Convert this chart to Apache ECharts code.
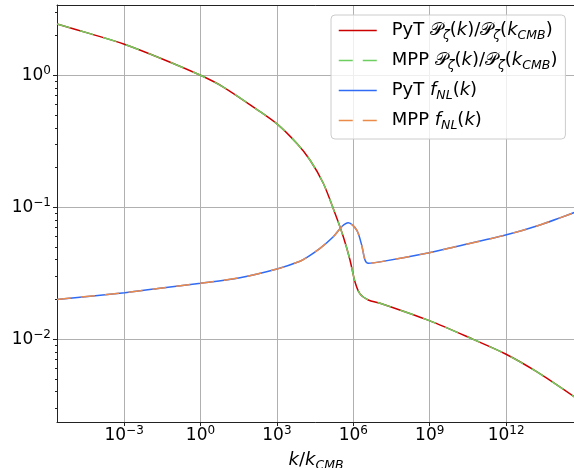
<!DOCTYPE html>
<html><head><meta charset="utf-8">
<script src="https://cdn.jsdelivr.net/npm/echarts@6/dist/echarts.min.js"></script>
<style>html,body{margin:0;padding:0;background:#fff}#c{width:574px;height:468px}</style>
</head><body><div id="c"></div>
<script>
// Power spectrum ratio P_zeta(k)/P_zeta(k_CMB)
const kP = [2.32e-6, 4.57e-5, 1.02e-3, 3.16e-2, 1, 7.85, 161, 1035, 5.98e3, 1.99e4, 6.62e4, 1.91e5, 4.05e5, 7.41e5, 1.16e6, 1.83e6, 3.87e6, 1.12e7, 9.62e8, 5.13e10, 9.55e11, 1.58e13, 5.07e14];
const pRatio = [2.45, 2.07, 1.72, 1.33, 1.0, 0.815, 0.552, 0.426, 0.305, 0.228, 0.152, 0.0899, 0.0597, 0.0398, 0.0272, 0.0220, 0.0198, 0.0187, 0.0138, 0.00995, 0.00771, 0.00566, 0.00362];
// f_NL(k)
const kF = [2.32e-6, 1.06e-3, 2.57e-2, 1.02, 35.5, 1007, 8.07e3, 1.52e4, 4.92e4, 1.64e5, 3.50e5, 6.35e5, 1.36e6, 2.13e6, 2.88e6, 3.87e6, 1.12e7, 9.62e8, 1e10, 9.55e11, 2.14e13, 5.07e14];
const fNL = [0.0200, 0.0225, 0.0243, 0.0265, 0.0292, 0.0340, 0.0389, 0.0417, 0.0488, 0.0597, 0.0711, 0.0762, 0.0671, 0.0516, 0.0398, 0.0376, 0.0385, 0.0452, 0.0501, 0.0615, 0.0733, 0.0915];
const xTicks = [1e-3, 1, 1e3, 1e6, 1e9, 1e12];
const yTicks = [0.01, 0.1, 1];
const yMinorTicks = [0.003, 0.004, 0.005, 0.006, 0.007, 0.008, 0.009, 0.02, 0.03, 0.04, 0.05, 0.06, 0.07, 0.08, 0.09, 0.2, 0.3, 0.4, 0.5, 0.6, 0.7, 0.8, 0.9, 2, 3];
const seriesNames = ['PyT P', 'MPP P', 'PyT fNL', 'MPP fNL'];
const seriesColors = ['#cc0000', '#6ccf5f', '#2f6bf5', '#ec8a4a'];

const FONT = 'DejaVu Sans';
const DASH = [14, 10];
const zip = (a, b) => a.map((v, i) => [v, b[i]]);
const powLabel = v => {
  const e = Math.round(Math.log10(v));
  return '{b|10}{s|' + String(e).replace('-', '\u2212') + '}';
};
const labelRich = {
  b: {fontSize: 17, fontFamily: FONT, color: '#000', lineHeight: 21},
  s: {fontSize: 12, fontFamily: FONT, color: '#000', padding: [0, 0, 9, 0]}
};
const textRich = {
  g: {width: 10},
  t: {fontSize: 18, fontFamily: FONT, color: '#000', lineHeight: 22},
  i: {fontSize: 18, fontFamily: FONT, color: '#000', fontStyle: 'italic', lineHeight: 22},
  m: {fontSize: 18, fontFamily: FONT, color: '#000', lineHeight: 22},
  sub: {fontSize: 12.5, fontFamily: FONT, color: '#000', fontStyle: 'italic', lineHeight: 12, padding: [10, 0, 0, 0]}
};
const PZ = '{m|\u{1D4AB}}{sub|\u03B6}{t|(}{i|k}{t|)/}{m|\u{1D4AB}}{sub|\u03B6}{t|(}{i|k}{sub|CMB}{t|)}';
const FN = '{i|f}{sub|NL}{t|(}{i|k}{t|)}';
const legendText = {
  'PyT P': '{g| }{t|PyT }' + PZ,
  'MPP P': '{g| }{t|MPP }' + PZ,
  'PyT fNL': '{g| }{t|PyT }' + FN,
  'MPP fNL': '{g| }{t|MPP }' + FN
};

const xMin = Math.pow(10, -5.635), xMax = Math.pow(10, 14.705);
const yMin = 0.002352, yMax = 3.412;

const mkSeries = (i, kArr, vArr, dashed) => ({
  name: seriesNames[i], type: 'line', data: zip(kArr, vArr), showSymbol: false, symbol: 'none', smooth: 0.3,
  lineStyle: {color: seriesColors[i], width: 1.5, type: dashed ? DASH : 'solid'},
  itemStyle: {color: seriesColors[i]}
});

const chart = echarts.init(document.getElementById('c'), null, {renderer: 'canvas'});
chart.setOption({
  animation: false,
  backgroundColor: '#fff',
  grid: {left: 57, right: -1, top: 5, bottom: 46, containLabel: false, outerBoundsMode: 'none'},
  xAxis: [{
    type: 'log', min: xMin, max: xMax, position: 'bottom',
    axisLine: {show: true, lineStyle: {color: '#222', width: 1}},
    axisTick: {show: true, inside: false, length: 4, customValues: xTicks, lineStyle: {color: '#222'}},
    axisLabel: {customValues: xTicks, formatter: powLabel, margin: 3, rich: labelRich},
    splitLine: {show: true, lineStyle: {color: '#b0b0b0', width: 1}},
    minorTick: {show: false},
    name: '{i|k}{t|/}{i|k}{sub|CMB}', nameLocation: 'middle', nameGap: 21,
    nameTextStyle: {rich: textRich}
  }, {
    type: 'value', min: 0, max: 1, position: 'top',
    axisLine: {show: true, onZero: false, lineStyle: {color: '#222', width: 1}},
    axisTick: {show: false}, axisLabel: {show: false}, splitLine: {show: false}
  }],
  yAxis: [{
    type: 'log', min: yMin, max: yMax, position: 'left',
    axisLine: {show: true, lineStyle: {color: '#222', width: 1}},
    axisTick: {show: true, inside: false, length: 4, customValues: yTicks, lineStyle: {color: '#222'}},
    axisLabel: {customValues: yTicks, formatter: powLabel, margin: 6, rich: labelRich},
    splitLine: {show: true, lineStyle: {color: '#b0b0b0', width: 1}}
  }, {
    type: 'log', min: yMin, max: yMax, position: 'left',
    axisLine: {show: false},
    axisTick: {show: true, inside: false, length: 2, customValues: yMinorTicks, lineStyle: {color: '#222'}},
    axisLabel: {show: false}, splitLine: {show: false}
  }],
  legend: {
    orient: 'vertical', left: 331, top: 15,
    data: seriesNames.map((n, i) => ({
      name: n,
      itemStyle: {opacity: 0},
      lineStyle: {color: seriesColors[i], width: 1.5, type: (i % 2 === 1) ? DASH : 'solid'}
    })),
    formatter: n => legendText[n],
    itemWidth: 38, itemHeight: 14, itemGap: 7,
    padding: [4, 8, 7, 7],
    itemStyle: {opacity: 0},
    backgroundColor: 'rgba(255,255,255,0.8)', borderColor: '#cccccc', borderWidth: 1, borderRadius: 4,
    textStyle: {fontFamily: FONT, fontSize: 18, color: '#000', rich: textRich}
  },
  series: [
    mkSeries(0, kP, pRatio, false),
    mkSeries(1, kP, pRatio, true),
    mkSeries(2, kF, fNL, false),
    mkSeries(3, kF, fNL, true)
  ]
});
</script></body></html>
